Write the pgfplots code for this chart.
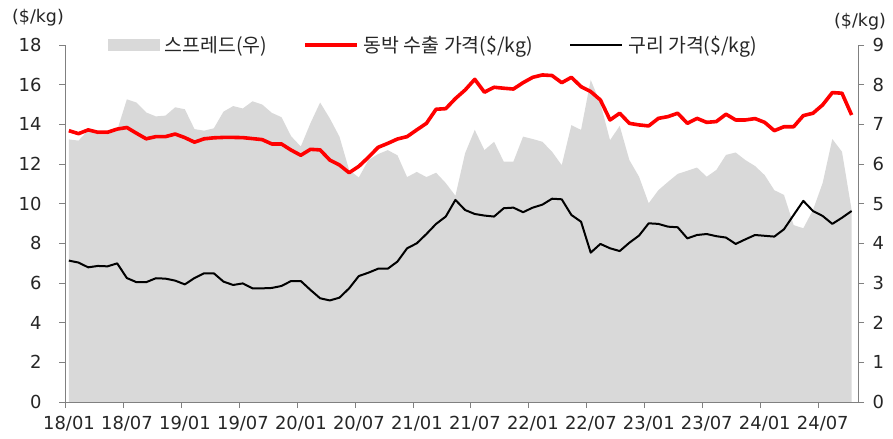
\documentclass[border=0pt]{standalone}
\usepackage{pgfplots}
\pgfplotsset{compat=1.18}
\usepackage{pgfplotstable}
\usepackage{fontspec}
\setmainfont{Noto Sans CJK KR}
\newfontfamily\numfont{DejaVu Sans}
\definecolor{spreadgray}{HTML}{D9D9D9}
\definecolor{axgray}{HTML}{808080}
\definecolor{txt}{HTML}{262626}
\pgfplotsset{
  myarea legend/.style={legend image code/.code={\fill[##1] (0bp,-6bp) rectangle (52bp,6bp);}},
  myline legend/.style={legend image code/.code={\draw[##1] (0bp,0bp) -- (52bp,0bp);}},
}
% month index, copper foil export price, copper price, spread (right axis)
\pgfplotstableread{
i foil copper spread
0 13.68 7.13 6.62
1 13.53 7.03 6.59
2 13.72 6.79 6.85
3 13.60 6.86 6.75
4 13.60 6.84 6.75
5 13.76 6.99 6.85
6 13.84 6.25 7.63
7 13.55 6.04 7.55
8 13.27 6.04 7.30
9 13.38 6.24 7.20
10 13.38 6.22 7.22
11 13.51 6.12 7.43
12 13.33 5.93 7.38
13 13.10 6.25 6.88
14 13.27 6.49 6.84
15 13.32 6.49 6.90
16 13.34 6.07 7.32
17 13.34 5.90 7.46
18 13.33 5.98 7.40
19 13.28 5.73 7.58
20 13.23 5.73 7.50
21 13.01 5.75 7.29
22 13.01 5.85 7.18
23 12.70 6.10 6.70
24 12.44 6.10 6.44
25 12.74 5.65 7.03
26 12.71 5.23 7.55
27 12.20 5.12 7.15
28 11.95 5.26 6.69
29 11.56 5.73 5.85
30 11.88 6.35 5.66
31 12.34 6.52 6.10
32 12.84 6.72 6.25
33 13.04 6.72 6.35
34 13.26 7.08 6.22
35 13.38 7.75 5.67
36 13.72 8.00 5.80
37 14.05 8.47 5.67
38 14.76 8.98 5.78
39 14.79 9.35 5.52
40 15.30 10.19 5.20
41 15.73 9.68 6.27
42 16.27 9.48 6.86
43 15.62 9.40 6.35
44 15.87 9.35 6.56
45 15.82 9.77 6.06
46 15.78 9.80 6.06
47 16.10 9.57 6.69
48 16.37 9.80 6.63
49 16.49 9.95 6.56
50 16.46 10.25 6.31
51 16.10 10.22 5.97
52 16.37 9.43 6.98
53 15.90 9.09 6.86
54 15.65 7.53 8.12
55 15.23 7.97 7.53
56 14.22 7.75 6.60
57 14.56 7.61 6.96
58 14.05 8.03 6.10
59 13.97 8.39 5.68
60 13.92 9.01 5.01
61 14.30 8.98 5.34
62 14.39 8.84 5.55
63 14.56 8.81 5.75
64 14.05 8.25 5.83
65 14.30 8.42 5.91
66 14.10 8.47 5.68
67 14.14 8.36 5.85
68 14.51 8.29 6.23
69 14.22 7.97 6.29
70 14.22 8.20 6.10
71 14.29 8.42 5.95
72 14.10 8.38 5.72
73 13.68 8.34 5.34
74 13.88 8.71 5.22
75 13.88 9.43 4.46
76 14.44 10.14 4.38
77 14.56 9.63 4.84
78 14.98 9.38 5.52
79 15.60 8.98 6.63
80 15.57 9.29 6.31
81 14.47 9.63 4.84
}\datatable
\begin{document}
\begin{tikzpicture}[font=\fontsize{17}{20}\selectfont, text=txt]
\path[use as bounding box] (-65bp,-37bp) rectangle (828bp,402bp);
% right axis: spread area
\begin{axis}[
  name=axr,
  at={(0,0)}, anchor=south west,
  width=793bp, height=357bp, scale only axis,
  xmin=-0.4, xmax=81.66, ymin=0, ymax=9,
  hide x axis,
  axis y line*=right,
  axis line style={axgray, line width=0.8bp},
  ytick={0,1,...,9},
  ytick align=outside, major tick length=6bp,
  tick style={axgray, line width=0.8bp},
  y tick label style={font=\numfont\fontsize{18}{20}\selectfont, text=txt, xshift=5bp},
  /pgf/number format/assume math mode=true,
]
\addplot[fill=spreadgray, draw=none] table[x=i, y=spread] {\datatable} \closedcycle;
\end{axis}
% left axis: prices
\begin{axis}[
  name=axl,
  at={(0,0)}, anchor=south west,
  width=793bp, height=357bp, scale only axis,
  xmin=-0.4, xmax=81.66, ymin=0, ymax=18,
  axis y line*=left, axis x line*=bottom,
  axis line style={axgray, line width=0.8bp},
  ytick={0,2,...,18},
  xtick={-0.4,5.6,11.6,17.6,23.6,29.6,35.6,41.6,47.6,53.6,59.6,65.6,71.6,77.6},
  xticklabels={18/01,18/07,19/01,19/07,20/01,20/07,21/01,21/07,22/01,22/07,23/01,23/07,24/01,24/07},
  tick align=outside, major tick length=6bp,
  tick style={axgray, line width=0.8bp},
  tick label style={font=\numfont\fontsize{18}{20}\selectfont, text=txt},
  y tick label style={xshift=-14bp},
  x tick label style={xshift=4bp, yshift=-5bp},
  /pgf/number format/assume math mode=true,
  legend style={at={(rel axis cs:0.05,1)}, anchor=west, draw=none, fill=none,
    font=\fontsize{19.5}{22}\selectfont, text=txt,
    /tikz/every even column/.append style={column sep=34bp},
    /tikz/every odd column/.append style={column sep=3bp}},
  legend columns=3,
]
\addlegendimage{myarea legend, fill=spreadgray, draw=none}
\addlegendentry{스프레드(우)}
\addplot[myline legend, red, line width=3.6bp, line join=round] table[x=i, y=foil] {\datatable};
\addlegendentry{동박 수출 가격(\$/kg)}
\addplot[myline legend, black, line width=2bp, line join=round] table[x=i, y=copper] {\datatable};
\addlegendentry{구리 가격(\$/kg)}
\end{axis}
\node[anchor=center, font=\numfont\fontsize{17.5}{20}\selectfont] at (axl.north west) [xshift=-27bp, yshift=27bp] {(\$/kg)};
\node[anchor=center, font=\numfont\fontsize{17.5}{20}\selectfont] at (axr.north east) [xshift=2bp, yshift=23bp] {(\$/kg)};
\end{tikzpicture}
\end{document}
